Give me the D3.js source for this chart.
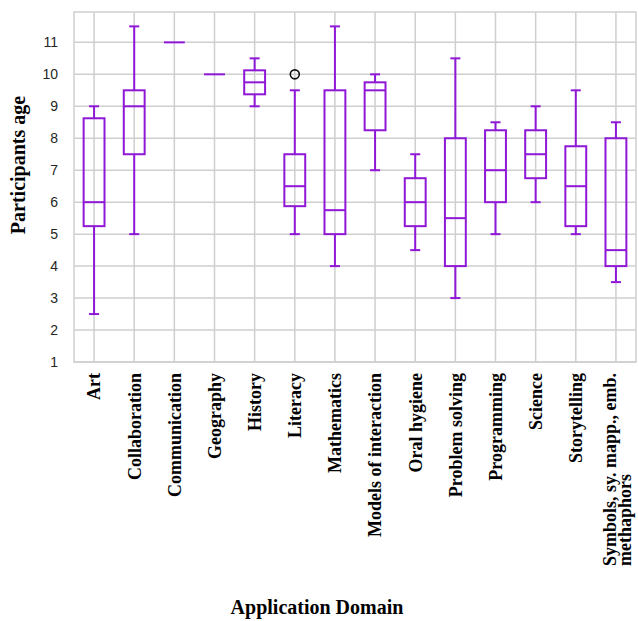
<!DOCTYPE html>
<html><head><meta charset="utf-8">
<script src="https://cdn.jsdelivr.net/npm/d3@7"></script>
<style>body{margin:0;background:#fff}</style>
</head><body>
<svg id="chart" width="638" height="621"></svg>
<script>
const categories = ["Art","Collaboration","Communication","Geography","History","Literacy","Mathematics","Models of interaction","Oral hygiene","Problem solving","Programming","Science","Storytelling","Symbols, sy. mapp., emb.\nmethaphors"];
const whiskerLow  = [2.5, 5, 11, 10, 9, 5, 4, 7, 4.5, 3, 5, 6, 5, 3.5];
const q1          = [5.25, 7.5, 11, 10, 9.375, 5.875, 5, 8.25, 5.25, 4, 6, 6.75, 5.25, 4];
const medians     = [6, 9, 11, 10, 9.75, 6.5, 5.75, 9.5, 6, 5.5, 7, 7.5, 6.5, 4.5];
const q3          = [8.625, 9.5, 11, 10, 10.125, 7.5, 9.5, 9.75, 6.75, 8, 8.25, 8.25, 7.75, 8];
const whiskerHigh = [9, 11.5, 11, 10, 10.5, 9.5, 11.5, 10, 7.5, 10.5, 8.5, 9, 9.5, 8.5];
const outliers    = [{cat: "Literacy", value: 10}];
const yTicks = [1,2,3,4,5,6,7,8,9,10,11];

const svg = d3.select("#chart");
const L = 74, R = 636, T = 12, B = 362;
const purple = "#8f17d6";
const grid = "#cfcfcf";

const x = d3.scaleBand().domain(categories).range([L, R]).padding(0);
const y = d3.scaleLinear().domain([1, 11.95]).range([B, T]);
const bw = x.bandwidth();

// grid
svg.append("g").selectAll("line").data(yTicks).join("line")
  .attr("x1", L).attr("x2", R).attr("y1", d => y(d)).attr("y2", d => y(d))
  .attr("stroke", grid).attr("stroke-width", 1.5);
svg.append("g").selectAll("line").data(categories).join("line")
  .attr("x1", d => x(d) + bw/2).attr("x2", d => x(d) + bw/2).attr("y1", T).attr("y2", B)
  .attr("stroke", grid).attr("stroke-width", 1.5);
svg.append("rect").attr("x", L).attr("y", T).attr("width", R - L).attr("height", B - T)
  .attr("fill", "none").attr("stroke", grid).attr("stroke-width", 1.5);

// y tick labels
svg.append("g").selectAll("text").data(yTicks).join("text")
  .attr("x", 58).attr("y", d => y(d)).attr("dy", "0.35em")
  .attr("text-anchor", "end").attr("font-family", "Liberation Sans, Arial, sans-serif")
  .attr("font-size", 14).attr("fill", "#262626").text(d => d);

// boxes
const data = categories.map((c, i) => ({c, lo: whiskerLow[i], q1: q1[i], med: medians[i], q3: q3[i], hi: whiskerHigh[i]}));
const g = svg.append("g").attr("stroke", purple).attr("stroke-width", 2).attr("fill", "none");
data.forEach(d => {
  const cx = x(d.c) + bw/2;
  const half = bw * 0.26;
  const cap = bw * 0.125;
  if (d.lo === d.hi) {
    g.append("line").attr("x1", cx - half).attr("x2", cx + half).attr("y1", y(d.med)).attr("y2", y(d.med));
    return;
  }
  g.append("line").attr("x1", cx).attr("x2", cx).attr("y1", y(d.lo)).attr("y2", y(d.q1));
  g.append("line").attr("x1", cx).attr("x2", cx).attr("y1", y(d.q3)).attr("y2", y(d.hi));
  g.append("line").attr("x1", cx - cap).attr("x2", cx + cap).attr("y1", y(d.lo)).attr("y2", y(d.lo));
  g.append("line").attr("x1", cx - cap).attr("x2", cx + cap).attr("y1", y(d.hi)).attr("y2", y(d.hi));
  g.append("rect").attr("x", cx - half).attr("width", 2 * half)
    .attr("y", y(d.q3)).attr("height", y(d.q1) - y(d.q3));
  g.append("line").attr("x1", cx - half).attr("x2", cx + half).attr("y1", y(d.med)).attr("y2", y(d.med));
});

// outliers
svg.append("g").selectAll("circle").data(outliers).join("circle")
  .attr("cx", d => x(d.cat) + bw/2).attr("cy", d => y(d.value)).attr("r", 4.5)
  .attr("fill", "none").attr("stroke", "#111").attr("stroke-width", 1.6);

// category labels
const serif = "Liberation Serif, Times New Roman, serif";
const lblTop = 373;
categories.forEach(c => {
  const lines = c.split("\n");
  const cx = x(c) + bw/2;
  const lh = 15;
  const n = lines.length;
  const lg = svg.append("g");
  const texts = lines.map((ln, k) => {
    const off = (k - (n - 1) / 2) * lh + (n > 1 ? 1.5 : 0);
    return lg.append("text")
      .attr("transform", `translate(${cx + off},${lblTop}) rotate(-90)`)
      .attr("dy", "0.35em")
      .attr("font-family", serif).attr("font-weight", "bold").attr("font-size", 18)
      .attr("fill", "#000").text(ln);
  });
  const lens = texts.map(t => t.node().getComputedTextLength());
  const maxLen = d3.max(lens);
  texts.forEach(t => {
    t.attr("text-anchor", "start").attr("x", -maxLen);
  });
});

// axis titles
svg.append("text").attr("transform", `translate(18,${(T + B) / 2 - 22}) rotate(-90)`)
  .attr("text-anchor", "middle").attr("dy", "0.35em")
  .attr("font-family", serif).attr("font-weight", "bold").attr("font-size", 20)
  .attr("fill", "#000").text("Participants age");
svg.append("text").attr("x", 317).attr("y", 614).attr("text-anchor", "middle")
  .attr("font-family", serif).attr("font-weight", "bold").attr("font-size", 20)
  .attr("fill", "#000").text("Application Domain");
</script>
</body></html>
